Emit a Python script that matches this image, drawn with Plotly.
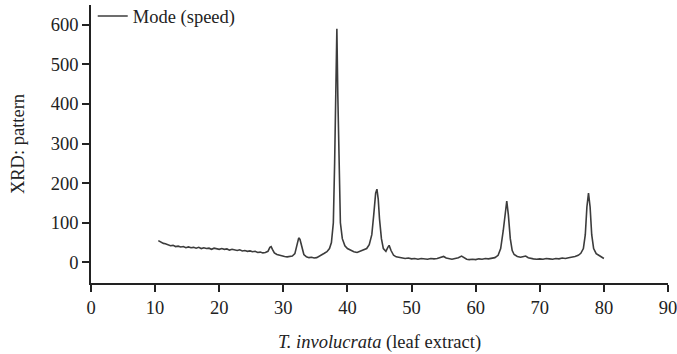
import plotly.graph_objects as go

two_theta = [10.5, 10.8, 11.0, 11.3, 11.6, 12.0, 12.4, 12.8, 13.2, 13.6, 14.0, 14.4, 14.8, 15.2, 15.6,
             16.0, 16.4, 16.8, 17.2, 17.6, 18.0, 18.4, 18.8, 19.2, 19.6, 20.0, 20.4, 20.8, 21.2, 21.6,
             22.0, 22.4, 22.8, 23.2, 23.6, 24.0, 24.4, 24.8, 25.2, 25.6, 26.0, 26.4, 26.8, 27.2, 27.6,
             27.9, 28.1, 28.3, 28.6, 29.0, 29.4, 29.8, 30.2, 30.6, 31.0, 31.4, 31.8, 32.1, 32.4, 32.6,
             32.9, 33.2, 33.6, 34.0, 34.4, 34.8, 35.2, 35.6, 36.0, 36.4, 36.8, 37.2, 37.5, 37.8, 38.0,
             38.2, 38.35, 38.5, 38.7, 38.9, 39.2, 39.6, 40.0, 40.5, 41.0, 41.5, 42.0, 42.5, 43.0, 43.4,
             43.8, 44.1, 44.4, 44.6, 44.8, 45.0, 45.3, 45.6, 46.0, 46.3, 46.5, 46.8, 47.2, 47.6, 48.0,
             48.5, 49.0, 49.5, 50.0, 50.5, 51.0, 51.5, 52.0, 52.5, 53.0, 53.5, 54.0, 54.5, 55.0, 55.4,
             55.8, 56.3, 56.8, 57.3, 57.8, 58.2, 58.6, 59.0, 59.5, 60.0, 60.5, 61.0, 61.5, 62.0, 62.5,
             63.0, 63.5, 63.9, 64.3, 64.6, 64.85, 65.1, 65.4, 65.7, 66.0, 66.5, 67.0, 67.5, 67.8, 68.2,
             68.6, 69.0, 69.5, 70.0, 70.5, 71.0, 71.5, 72.0, 72.5, 73.0, 73.5, 74.0, 74.5, 75.0, 75.5,
             76.0, 76.4, 76.8, 77.1, 77.35, 77.6, 77.85, 78.1, 78.4, 78.8, 79.2, 79.6, 80.0]

intensity = [55, 52, 50, 48, 47, 45, 42, 43, 40, 41, 39, 40, 37, 39, 37,
             38, 36, 38, 35, 37, 35, 36, 33, 36, 34, 33, 35, 33, 34, 31,
             33, 32, 30, 32, 29, 30, 28, 29, 27, 28, 25, 26, 24, 25, 28,
             38, 40, 33, 24, 20, 18, 16, 15, 14, 15, 16, 22, 40, 62, 58,
             35, 20, 14, 12, 13, 11, 12, 15, 20, 23, 27, 35, 50, 100, 250,
             480, 590, 420, 200, 100, 60, 42, 35, 30, 27, 25, 28, 30, 35, 45,
             70, 120, 175, 185, 160, 110, 60, 35, 28, 38, 43, 30, 18, 14, 13,
             11, 10, 11, 9, 10, 8, 10, 9, 8, 10, 9, 10, 12, 15, 11,
             9, 8, 10, 12, 16, 11, 8, 7, 8, 7, 9, 8, 10, 9, 11,
             12, 18, 35, 80, 130, 155, 120, 60, 30, 20, 15, 13, 15, 16, 12,
             10, 9, 8, 9, 8, 10, 9, 8, 10, 9, 11, 10, 12, 13, 15,
             18, 23, 35, 70, 140, 175, 140, 70, 35, 22, 18, 14, 10]

x_ticks = [0, 10, 20, 30, 40, 50, 60, 70, 80, 90]
y_ticks = [0, 100, 200, 300, 400, 500, 600]

font_family = "Liberation Serif, Times New Roman, serif"

fig = go.Figure()
fig.add_trace(go.Scatter(
    x=two_theta, y=intensity, mode="lines", name="Mode (speed)",
    line=dict(color="#3c3c3c", width=1.6),
))

fig.update_layout(
    width=677, height=354,
    margin=dict(l=91, r=9, t=5, b=71, autoexpand=False),
    paper_bgcolor="white", plot_bgcolor="white",
    font=dict(family=font_family, size=18.5, color="#222222"),
    showlegend=True,
    legend=dict(x=0.003, y=1.027, xanchor="left", yanchor="top",
                bgcolor="rgba(0,0,0,0)", font=dict(size=18.5),
                itemwidth=30),
    xaxis=dict(
        range=[0, 90], tickvals=x_ticks, showgrid=False, zeroline=False,
        showline=True, linecolor="#222222", linewidth=1.5,
        ticks="outside", ticklen=7, tickcolor="#222222", tickwidth=1.5,
        tickfont=dict(size=18.5), ticklabeloverflow="allow",
        title=dict(text="<i>T. involucrata</i> (leaf extract)", standoff=18,
                   font=dict(size=18.5)),
    ),
    yaxis=dict(
        range=[-52, 650], tickvals=y_ticks, showgrid=False, zeroline=False,
        showline=True, linecolor="#222222", linewidth=1.5,
        ticks="outside", ticklen=7, tickcolor="#222222", tickwidth=1.5,
        tickfont=dict(size=18.5),
        title=dict(text="XRD: pattern", standoff=21, font=dict(size=18.5)),
    ),
)

fig.write_html("out.html")
